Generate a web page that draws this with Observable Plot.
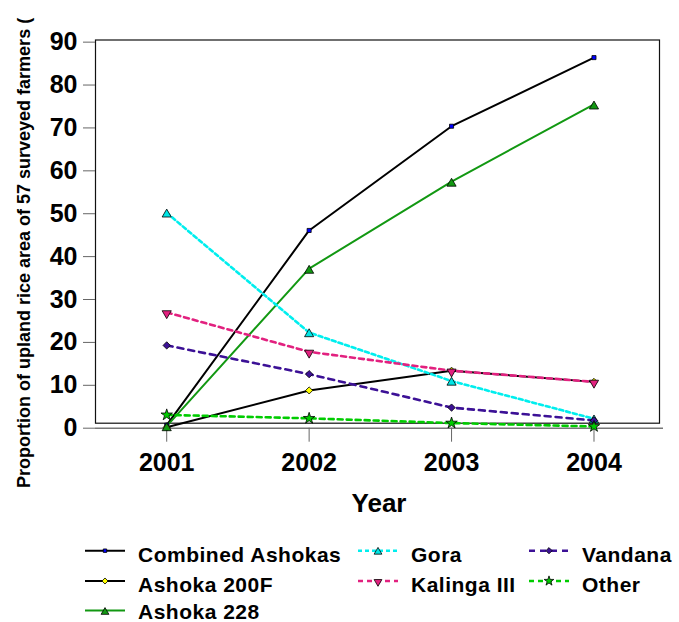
<!DOCTYPE html>
<html>
<head>
<meta charset="utf-8">
<script src="https://cdn.jsdelivr.net/npm/d3@7"></script>
<script src="https://cdn.jsdelivr.net/npm/@observablehq/plot@0.6"></script>
<style>
  html, body { margin: 0; padding: 0; background: #fff; }
  #chart svg { display: block; }
  #legend svg { display: block; }
</style>
</head>
<body>
<div id="chart"></div>
<div id="legend"></div>
<script>
// ---- data ----
const years = [2001, 2002, 2003, 2004];
const seriesNames = ["Combined Ashokas", "Ashoka 200F", "Ashoka 228", "Gora", "Kalinga III", "Vandana", "Other"];
const combinedAshokas = [0.7, 46.1, 70.4, 86.4];
const ashoka200F = [0.2, 8.8, 13.4, 10.8];
const ashoka228 = [0.5, 37.2, 57.5, 75.5];
const gora = [50.2, 22.3, 11.0, 2.2];
const kalingaIII = [27.0, 17.8, 13.4, 10.8];
const vandana = [19.3, 12.6, 4.8, 1.8];
const other = [3.1, 2.3, 1.2, 0.4];
const yTicks = [0, 10, 20, 30, 40, 50, 60, 70, 80, 90];
const yTitle = "Proportion of upland rice area of 57 surveyed farmers (";
const xTitle = "Year";

const seriesValues = [combinedAshokas, ashoka200F, ashoka228, gora, kalingaIII, vandana, other];

// ---- styles ----
const styles = [
  {stroke: "#000000", dash: null, width: 2, symbol: "square", fill: "#0000ff", r: 2.3, dy: 0, rotate: 0},
  {stroke: "#000000", dash: null, width: 2, symbol: "diamond2", fill: "#ffff00", r: 3.2, dy: 0, rotate: 0},
  {stroke: "#129812", dash: null, width: 2, symbol: "triangle", fill: "#129812", r: 3.4, dy: 2, rotate: 0},
  {stroke: "#00eeee", dash: "4,3", width: 2.6, symbol: "triangle", fill: "#00e5e5", r: 3.4, dy: 1.5, rotate: 0},
  {stroke: "#e2217f", dash: "5,4", width: 2.6, symbol: "triangle", fill: "#e2217f", r: 3.4, dy: 1, rotate: 180},
  {stroke: "#3c1196", dash: "6,5", width: 2.6, symbol: "diamond2", fill: "#3c1196", r: 3.3, dy: 0, rotate: 0},
  {stroke: "#00cc00", dash: "5,4", width: 2.6, symbol: "star", fill: "#00cc00", r: 3.6, dy: 0, rotate: 0}
];

const rows = seriesNames.flatMap((name, i) => years.map((year, j) => ({series: name, year, value: seriesValues[i][j]})));

const FONT = "'Liberation Sans', Arial, Helvetica, sans-serif";

const lineMarks = seriesNames.map((name, i) => Plot.line(rows.filter(d => d.series === name), {
  x: "year", y: "value", stroke: styles[i].stroke, strokeWidth: styles[i].width,
  strokeDasharray: styles[i].dash, strokeLinejoin: "round"
}));
const dotMarks = seriesNames.map((name, i) => Plot.dot(rows.filter(d => d.series === name), {
  x: "year", y: "value", symbol: () => styles[i].symbol, r: styles[i].r, fill: styles[i].fill,
  stroke: "#000", strokeWidth: 0.8, dy: styles[i].dy, rotate: styles[i].rotate
}));

const W = 679, H = 530;
const chart = Plot.plot({
  width: W,
  height: H,
  marginLeft: 95,
  marginRight: 20,
  marginTop: 39.5,
  marginBottom: H - 427.7,
  style: {fontFamily: FONT, background: "#fff", color: "#000"},
  x: {domain: [2000.5, 2004.46]},
  y: {domain: [0, 90.5]},
  symbol: {type: "identity"},
  marks: [
    Plot.frame({stroke: "#111", strokeWidth: 1.2, insetBottom: 5}),
    Plot.ruleY([0], {stroke: "#777", strokeWidth: 1.5, insetRight: -4}),
    Plot.axisY({ticks: yTicks, tickSize: 12, tickPadding: 6, fontSize: 25, fontWeight: "bold",
      stroke: "#666", fill: "#000", label: null, tickFormat: "d"}),
    Plot.axisX({ticks: years, tickSize: 14, tickPadding: 11, fontSize: 25, fontWeight: "bold",
      stroke: "#666", fill: "#000", label: null, tickFormat: "d"}),
    ...lineMarks,
    ...dotMarks
  ]
});
document.getElementById("chart").appendChild(chart);

const svg = d3.select(chart);
svg.append("text")
  .attr("x", 379).attr("y", 512)
  .attr("text-anchor", "middle")
  .style("font-family", FONT).style("font-size", "26px").style("font-weight", "bold")
  .text(xTitle);
svg.append("text")
  .attr("transform", "translate(30,488) rotate(-90)")
  .attr("text-anchor", "start")
  .style("font-family", FONT).style("font-size", "18px").style("font-weight", "bold")
  .text(yTitle);

// ---- legend ----
const legendCols = [
  {sx: 85, tx: 138, items: [0, 1, 2]},
  {sx: 358, tx: 411, items: [3, 4]},
  {sx: 529, tx: 582, items: [5, 6]}
];
const rowLine = [20.7, 51, 80.5];
const rowBase = [31.7, 61.7, 88.5];
const lg = d3.select("#legend").append("svg").attr("width", W).attr("height", 92);
const symMap = {square: d3.symbolSquare, diamond2: d3.symbolDiamond2, triangle: d3.symbolTriangle, star: d3.symbolStar};
legendCols.forEach(col => {
  col.items.forEach((idx, r) => {
    const st = styles[idx];
    lg.append("line")
      .attr("x1", col.sx).attr("x2", col.sx + 40)
      .attr("y1", rowLine[r]).attr("y2", rowLine[r])
      .attr("stroke", st.stroke).attr("stroke-width", st.width)
      .attr("stroke-dasharray", st.dash);
    const rr = st.r * 0.85;
    lg.append("path")
      .attr("d", d3.symbol(symMap[st.symbol], rr * rr * Math.PI)())
      .attr("transform", `translate(${col.sx + 20},${rowLine[r] + st.dy * 0.8}) rotate(${st.rotate})`)
      .attr("fill", st.fill).attr("stroke", "#000").attr("stroke-width", 0.8);
    lg.append("text")
      .attr("x", col.tx).attr("y", rowBase[r])
      .style("font-family", FONT).style("font-size", "21px").style("font-weight", "bold")
      .style("letter-spacing", "0.5px")
      .text(seriesNames[idx]);
  });
});
</script>
</body>
</html>
